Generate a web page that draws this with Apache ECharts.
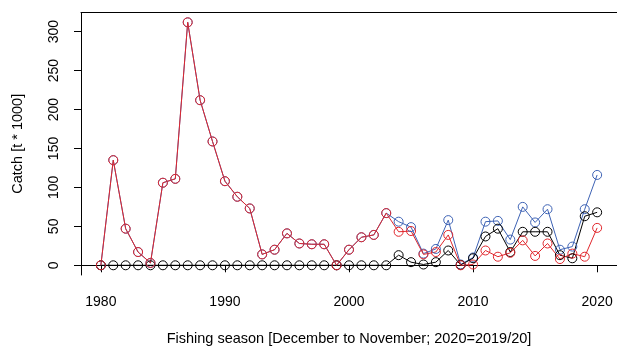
<!DOCTYPE html>
<html><head><meta charset="utf-8">
<script src="https://cdn.jsdelivr.net/npm/echarts@6/dist/echarts.min.js"></script>
<style>html,body{margin:0;padding:0;background:#fff}#c{width:617px;height:351px}</style>
</head><body><div id="c"></div>
<script>
const years = [1980,1981,1982,1983,1984,1985,1986,1987,1988,1989,1990,1991,1992,1993,1994,1995,1996,1997,1998,1999,2000,2001,2002,2003,2004,2005,2006,2007,2008,2009,2010,2011,2012,2013,2014,2015,2016,2017,2018,2019,2020];
const totalCatch = [0,135,47,17,3,106,111,312,212,159,108,88,73,14,20,41,28,27,27,0,20,36,39,67,56,49,15,21,58,1,10,56,57,33,75,55,72,20,24,72,116];
const blackCatch = [0,0,0,0,0,0,0,0,0,0,0,0,0,0,0,0,0,0,0,0,0,0,0,0,13,4,1,4,19,0.5,9,37,47,17,43,43,43,13,9,63,68];
const redCatch = [0,135,47,17,3,106,111,312,212,159,108,88,73,14,20,41,28,27,27,0,20,36,39,67,43,44,14,17,39,0,1,19,11,16,32,12,28,8,15,11,48];
const xTicks = [1980,1990,2000,2010,2020];
const yTicks = [0,50,100,150,200,250,300];

const FONT = 'Liberation Sans';
function pairs(v){ return years.map((y,i)=>[y,v[i]]); }
function ser(name, v, color){
  return {name, type:'line', data:pairs(v), symbol:'circle', symbolSize:9,
    lineStyle:{color, width:1}, itemStyle:{color:'rgba(255,255,255,0)', borderColor:color, borderWidth:1},
    emphasis:{disabled:true}, animation:false, z:2};
}
const chart = echarts.init(document.getElementById('c'), null, {renderer:'canvas'});
chart.setOption({
  animation:false,
  grid:{left:81, top:12.6, width:537, height:266.3, containLabel:false},
  xAxis:[{
    type:'value', min:1978.4, max:2021.6, position:'bottom',
    name:'Fishing season [December to November; 2020=2019/20]', nameLocation:'middle', nameGap:56,
    nameTextStyle:{fontFamily:FONT, fontSize:14.5, color:'#000'},
    axisLine:{show:true, lineStyle:{color:'#000', width:1}},
    axisTick:{show:true, length:7, inside:false, customValues:xTicks, lineStyle:{color:'#000'}},
    axisLabel:{show:true, customValues:xTicks, margin:20, fontFamily:FONT, fontSize:14, color:'#000', formatter:v=>String(v)},
    splitLine:{show:false}
  },{
    type:'value', min:1978.4, max:2021.6, position:'top',
    axisLine:{show:true, lineStyle:{color:'#000', width:1}},
    axisTick:{show:false}, axisLabel:{show:false}, splitLine:{show:false}
  }],
  yAxis:{
    type:'value', min:-12.48, max:324.48,
    name:'Catch [t * 1000]', nameLocation:'middle', nameGap:56, nameRotate:90,
    nameTextStyle:{fontFamily:FONT, fontSize:14.5, color:'#000'},
    axisLine:{show:true, lineStyle:{color:'#000', width:1}},
    axisTick:{show:true, length:7, customValues:yTicks, lineStyle:{color:'#000'}},
    axisLabel:{show:true, customValues:yTicks, rotate:90, margin:20, fontFamily:FONT, fontSize:14, color:'#000'},
    splitLine:{show:false}
  },
  series:[
    ser('total', totalCatch, '#3d62b4'),
    ser('black', blackCatch, '#000000'),
    ser('red', redCatch, '#e0262c')
  ]
});
</script></body></html>
